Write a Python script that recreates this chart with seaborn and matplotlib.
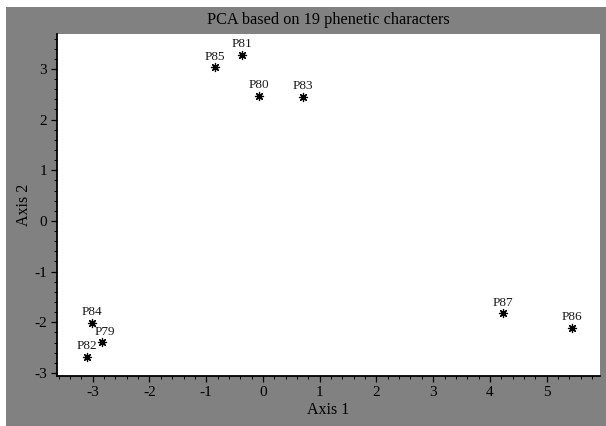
import numpy as np
import pandas as pd
import seaborn as sns
import matplotlib.pyplot as plt
from matplotlib.patches import Rectangle
from matplotlib.ticker import MultipleLocator

# PCA scores
samples = ["P81", "P85", "P80", "P83", "P84", "P79", "P82", "P87", "P86"]
axis1 = [-0.37, -0.85, -0.07, 0.71, -3.02, -2.84, -3.10, 4.23, 5.45]
axis2 = [3.28, 3.04, 2.47, 2.45, -2.01, -2.39, -2.68, -1.82, -2.11]

df = pd.DataFrame({"sample": samples, "Axis 1": axis1, "Axis 2": axis2})

sns.set_style("ticks")
plt.rcParams["font.family"] = ["Liberation Serif", "DejaVu Serif"]
plt.rcParams["axes.unicode_minus"] = False
plt.rcParams["text.color"] = "black"
plt.rcParams["axes.labelcolor"] = "black"

fig = plt.figure(figsize=(6.06, 4.26), dpi=100)
fig.patch.set_facecolor("white")
# grey backdrop with a thin white strip on the left and top
fig.patches.append(Rectangle((6 / 606, 0), 1, 1 - 7 / 426, transform=fig.transFigure,
                             facecolor="#818181", edgecolor="none", zorder=-5))

ax = fig.add_axes([57 / 606, 50 / 426, 543 / 606, 342 / 426])
ax.set_facecolor("white")

sns.scatterplot(data=df, x="Axis 1", y="Axis 2", ax=ax, marker=(8, 2, 0),
                color="black", s=34, linewidth=0.9, legend=False)

for name, x, y in zip(samples, axis1, axis2):
    dx = 2 if name == "P79" else 0
    ax.annotate(name, (x, y), xytext=(dx, 7.5), textcoords="offset points",
                ha="center", va="center", fontsize=9.5, color="#1a1a1a")

ax.set_xlim(-3.63, 5.94)
ax.set_ylim(-3.06, 3.69)
ax.xaxis.set_major_locator(MultipleLocator(1))
ax.xaxis.set_minor_locator(MultipleLocator(0.2))
ax.yaxis.set_major_locator(MultipleLocator(1))
ax.yaxis.set_minor_locator(MultipleLocator(0.2))
ax.tick_params(which="major", direction="out", length=4, width=0.9, labelsize=11,
               colors="black", pad=3)
ax.tick_params(which="minor", direction="out", length=2, width=0.7, colors="black")

for side in ["top", "right"]:
    ax.spines[side].set_visible(False)
for side in ["left", "bottom"]:
    ax.spines[side].set_color("black")
    ax.spines[side].set_linewidth(1.3)

ax.set_xlabel("Axis 1", fontsize=11.5, labelpad=2)
ax.set_ylabel("Axis 2", fontsize=11.5, labelpad=2)
ax.set_title("PCA based on 19 phenetic characters", fontsize=11.7, pad=7)

fig.savefig("out.png", dpi=100, facecolor=fig.get_facecolor())
